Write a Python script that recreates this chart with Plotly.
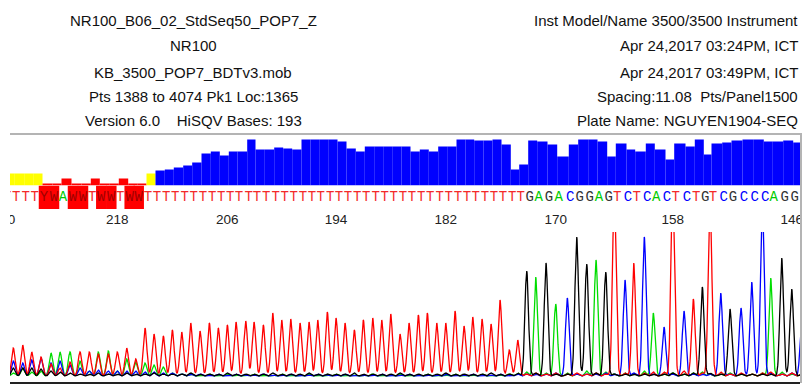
import numpy as np
import plotly.graph_objects as go

# ---------------- data ----------------
header_left = [
    "NR100_B06_02_StdSeq50_POP7_Z",
    "NR100",
    "KB_3500_POP7_BDTv3.mob",
    "Pts 1388 to 4074 Pk1 Loc:1365",
    "Version 6.0\u00a0\u00a0\u00a0 HiSQV Bases: 193",
]
header_right = [
    "Inst Model/Name 3500/3500 Instrument",
    "Apr 24,2017 03:24PM, ICT",
    "Apr 24,2017 03:49PM, ICT",
    "Spacing:11.08\u00a0 Pts/Panel1500",
    "Plate Name: NGUYEN1904-SEQ",
]

first_base = 230  # base numbers decrease left to right
base_calls = list("TTTTYWAWWTWWTWWT" + "T" * 41 + "GAGACGGAGTCTCACTCTGTCGCCCAGGC")

# peak (scan) positions of each base, left to right
base_pos = [
    4.0, 13.3, 22.7, 31.7, 41.0, 51.0, 60.0, 70.0, 80.0, 89.3,
    98.3, 108.3, 117.3, 126.7, 135.7, 145.0, 154.0, 163.3, 172.3, 181.7,
    190.7, 200.0, 209.3, 218.3, 227.3, 236.0, 245.7, 254.0, 263.3, 272.7,
    281.7, 290.7, 300.0, 309.0, 317.7, 327.3, 336.0, 345.0, 354.3, 363.3,
    372.7, 381.7, 390.7, 400.0, 409.0, 418.3, 427.3, 436.7, 445.7, 455.0,
    464.0, 472.7, 482.0, 491.0, 500.0, 509.3, 517.7, 526.7, 535.7, 546.0,
    555.7, 567.3, 576.7, 586.7, 596.0, 605.7, 614.3, 625.0, 633.7, 644.3,
    653.3, 664.0, 672.7, 684.0, 693.3, 702.3, 710.0, 720.7, 730.0, 741.0,
    751.7, 762.3, 770.7, 781.7, 791.7, 802.0,
]

# quality values (bar heights)
quality = [
    12, 12, 12, 12, 2, 2, 7, 2, 2, 7,
    2, 2, 7, 2, 2, 12, 15, 16, 18, 20,
    23, 32, 34, 30, 34, 34, 46, 36, 36, 38,
    37, 36, 46, 46, 46, 46, 44, 37, 34, 39,
    39, 39, 39, 39, 34, 36, 34, 39, 39, 46,
    46, 45, 45, 46, 41, 16, 21, 45, 44, 41,
    29, 41, 46, 46, 44, 29, 42, 36, 34, 42,
    36, 26, 42, 39, 46, 31, 42, 43, 45, 46,
    46, 44, 44, 45, 43, 40,
]

# signal heights of each dye channel at each base position
sig_T = [
    25, 28, 31, 24, 19, 12, 8, 14, 24, 24,
    22, 22, 24, 28, 17, 48, 42, 40, 46, 44,
    53, 45, 53, 48, 51, 54, 55, 54, 51, 63,
    56, 57, 53, 54, 56, 64, 58, 53, 46, 56,
    58, 56, 62, 42, 53, 61, 63, 53, 53, 65,
    50, 59, 57, 52, 76, 26, 36, 2, 3, 2,
    3, 2, 3, 2, 3, 2, 180, 3, 113, 3,
    4, 4, 185, 5, 77, 3, 180, 4, 2, 3,
    2, 3, 4, 2, 3, 2,
]
sig_A = [
    5, 3, 8, 4, 5, 23, 24, 24, 15, 5,
    24, 25, 5, 17, 14, 13, 11, 9, 3, 2,
    2, 1, 2, 1, 2, 1, 1, 2, 1, 1,
    2, 1, 1, 2, 1, 1, 2, 1, 1, 1,
    2, 1, 1, 2, 1, 1, 2, 1, 1, 2,
    1, 1, 2, 1, 1, 2, 3, 4, 99, 3,
    72, 3, 2, 5, 116, 4, 2, 3, 2, 5,
    63, 2, 3, 2, 3, 4, 2, 2, 3, 2,
    2, 3, 98, 4, 2, 2,
]
sig_C = [
    12, 15, 13, 16, 18, 13, 15, 11, 8, 5,
    6, 5, 5, 5, 5, 4, 4, 3, 3, 2,
    2, 2, 1, 2, 1, 2, 1, 1, 2, 1,
    1, 2, 1, 1, 2, 1, 1, 2, 1, 1,
    1, 2, 1, 1, 2, 1, 1, 1, 2, 1,
    1, 2, 1, 1, 2, 1, 2, 2, 2, 2,
    3, 78, 2, 2, 2, 3, 2, 96, 3, 139,
    2, 49, 2, 65, 2, 2, 2, 83, 2, 68,
    94, 175, 3, 2, 3, 60,
]
sig_G = [
    8, 8, 8, 8, 7, 5, 4, 3, 2, 2,
    3, 2, 2, 3, 2, 2, 3, 2, 2, 2,
    3, 2, 2, 2, 3, 2, 2, 2, 2, 3,
    2, 2, 2, 3, 2, 2, 2, 2, 3, 2,
    2, 2, 2, 3, 2, 2, 2, 2, 3, 2,
    2, 2, 2, 3, 2, 2, 3, 105, 3, 113,
    2, 2, 139, 112, 3, 104, 2, 2, 2, 2,
    2, 2, 3, 2, 3, 89, 3, 2, 67, 2,
    2, 2, 2, 118, 87, 2,
]

label_every = 12  # a base number is printed every 12 bases

# ---------------- layout constants (pixels) ----------------
W, H = 806, 387
ML, MR = 10, 6
X0, X1 = 10, 800
SIGMA = 1.8
LETTER_SHIFT = 3.0
BAR_SHIFT = 1.5


def py(p):
    return (H - p) / H


def px(p):
    return (p - X0) / (X1 - X0)


pos = np.array(base_pos)
n = len(base_calls)
base_nums = [first_base - i for i in range(n)]

# quality bars span from one peak to the next
nxt = np.append(pos[1:], pos[-1] + 10.0)
bar_x = (pos + nxt) / 2 + BAR_SHIFT
bar_w = nxt - pos
bar_col = ["#0000FF" if q >= 14 else ("#FFFF00" if q >= 10 else "#FF0000") for q in quality]

letter_colors = {"A": "#00CC00", "C": "#0000FF", "G": "#333333", "T": "#F42A2A"}
mixed = [c not in letter_colors for c in base_calls]

# only letters whose position falls inside the visible window are written
vis = [i for i in range(n) if pos[i] + LETTER_SHIFT < X1]
let_x = [pos[i] + LETTER_SHIFT for i in vis]
let_t = [base_calls[i] for i in vis]
let_c = [letter_colors.get(base_calls[i], "#A00000") for i in vis]

mix_x = [p + LETTER_SHIFT for p, m in zip(pos, mixed) if m]

tick_idx = [i for i, b in enumerate(base_nums) if (first_base - b) % label_every == 0]
tick_x = [pos[i] for i in tick_idx]
tick_txt = [str(base_nums[i]) for i in tick_idx]

xs = np.arange(0, 812, 0.25)


def channel(heights):
    y = np.zeros_like(xs)
    for p, h in zip(pos, heights):
        y += h * np.exp(-((xs - p) ** 2) / (2 * SIGMA ** 2))
    return y


fig = go.Figure()

# frame (top gray line + right edge)
fig.add_trace(go.Scatter(x=[None], y=[None], xaxis="x2", yaxis="y5",
                         showlegend=False, hoverinfo="skip"))

# quality bars
fig.add_trace(go.Bar(x=bar_x, y=quality, width=bar_w, marker_color=bar_col,
                     marker_line_width=0, xaxis="x", yaxis="y2", showlegend=False))

# red boxes behind mixed bases
fig.add_trace(go.Bar(x=mix_x, y=[1] * len(mix_x), width=[10.5] * len(mix_x),
                     marker_color="#FF0000", marker_line_width=0,
                     xaxis="x", yaxis="y3", showlegend=False))

# base letters
fig.add_trace(go.Scatter(x=let_x, y=[0.5] * len(let_x), mode="text", text=let_t,
                         textfont=dict(family="Liberation Mono", size=14, color=let_c),
                         xaxis="x", yaxis="y3", cliponaxis=True, showlegend=False))

# base numbers
fig.add_trace(go.Scatter(x=tick_x, y=[0.5] * len(tick_x), mode="text", text=tick_txt,
                         textfont=dict(family="Liberation Sans", size=13.5, color="#222222"),
                         xaxis="x", yaxis="y4", cliponaxis=True, showlegend=False))

# electropherogram
for sig, col in [(sig_A, "#00DD00"), (sig_C, "#0000FF"), (sig_T, "#FF0000"), (sig_G, "#000000")]:
    fig.add_trace(go.Scatter(x=xs, y=channel(sig), mode="lines",
                             line=dict(color=col, width=1.3),
                             xaxis="x", yaxis="y", showlegend=False, hoverinfo="skip"))

hidden = dict(visible=False, showgrid=False, zeroline=False, fixedrange=True)

fig.update_layout(
    width=W, height=H, autosize=False,
    margin=dict(l=ML, r=MR, t=0, b=0, pad=0),
    paper_bgcolor="white", plot_bgcolor="rgba(0,0,0,0)",
    barmode="overlay", showlegend=False,
    xaxis=dict(range=[X0, X1], domain=[0, 1], anchor="y", showgrid=False, zeroline=False,
               showticklabels=False, ticks="", showline=True, linecolor="#222222", linewidth=1.6),
    xaxis2=dict(range=[X0, X1], domain=[0, 1], anchor="y5", side="top", showgrid=False,
                zeroline=False, showticklabels=False, ticks="", showline=True,
                linecolor="#b4b4b4", linewidth=1.6),
    yaxis=dict(domain=[py(382), py(232)], range=[-6, 144], anchor="x", **hidden),
    yaxis2=dict(domain=[py(185.5), py(134.5)], range=[0, 51], anchor="x", **hidden),
    yaxis3=dict(domain=[py(209), py(185.5)], range=[0, 1], anchor="x", **hidden),
    yaxis4=dict(domain=[py(229), py(213)], range=[0, 1], anchor="x", **hidden),
    yaxis5=dict(domain=[py(383), py(134.5)], range=[0, 1], anchor="x2", side="right",
                showgrid=False, zeroline=False, showticklabels=False, ticks="",
                showline=True, linecolor="#b4b4b4", linewidth=1.6, fixedrange=True),
)

line_y = [20, 46, 72, 97, 121]
for txt, yy in zip(header_left, line_y):
    fig.add_annotation(text=txt, xref="paper", yref="paper", x=px(193), y=py(yy),
                       xanchor="center", yanchor="middle", showarrow=False,
                       font=dict(family="Liberation Sans", size=15, color="#111111"))
for txt, yy in zip(header_right, line_y):
    fig.add_annotation(text=txt, xref="paper", yref="paper", x=px(800), y=py(yy),
                       xanchor="right", yanchor="middle", showarrow=False,
                       font=dict(family="Liberation Sans", size=15, color="#111111"))

fig.write_html("out.html")
